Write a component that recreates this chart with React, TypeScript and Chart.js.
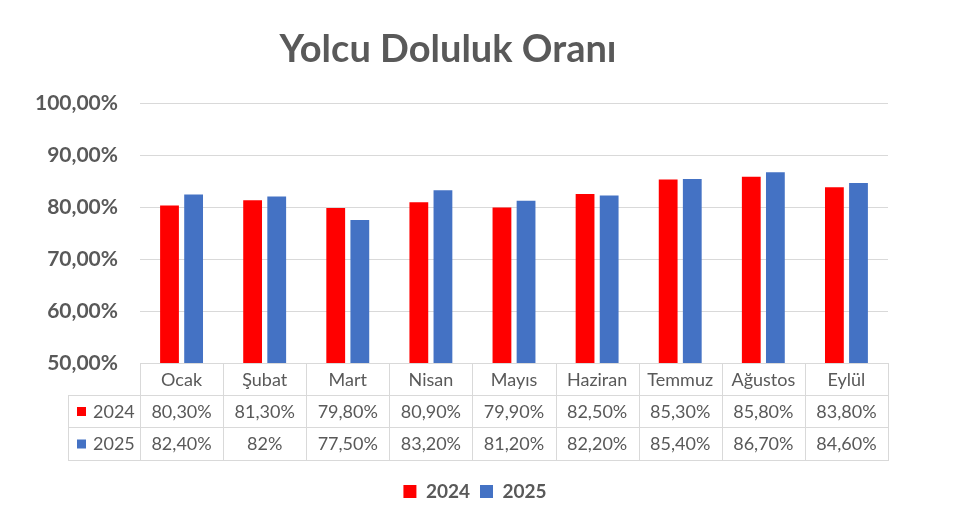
import React, { useEffect, useRef } from "react";
import { Chart, registerables } from "chart.js";

Chart.register(...registerables);

const months = ["Ocak", "Şubat", "Mart", "Nisan", "Mayıs", "Haziran", "Temmuz", "Ağustos", "Eylül"];
const seriesNames = ["2024", "2025"];
const values2024 = [80.3, 81.3, 79.8, 80.9, 79.9, 82.5, 85.3, 85.8, 83.8];
const values2025 = [82.4, 82.0, 77.5, 83.2, 81.2, 82.2, 85.4, 86.7, 84.6];
const table2024 = ["80,30%", "81,30%", "79,80%", "80,90%", "79,90%", "82,50%", "85,30%", "85,80%", "83,80%"];
const table2025 = ["82,40%", "82%", "77,50%", "83,20%", "81,20%", "82,20%", "85,40%", "86,70%", "84,60%"];
const colors = ["#ff0000", "#4472c4"];
const titleText = "Yolcu Doluluk Oranı";

const FONT = "Lato, 'Open Sans', sans-serif";
const GRAY = "#595959";
const LINE = "#d9d9d9";

const tablePlugin = {
  id: "dataTable",
  afterLayout(chart: any) {
    // shift the legend so that it is centred like in the reference
    if (chart.legend) {
      chart.legend.left += 54;
    }
  },
  afterDraw(chart: any) {
    const ctx = chart.ctx as CanvasRenderingContext2D;
    const area = chart.chartArea;
    const xs = chart.scales.x;
    ctx.save();
    // title
    ctx.fillStyle = GRAY;
    ctx.font = `bold 38px ${FONT}`;
    ctx.textAlign = "center";
    ctx.textBaseline = "alphabetic";
    ctx.fillText(titleText, 448, 62);

    const half = (xs.getPixelForValue(1) - xs.getPixelForValue(0)) / 2;
    const left = xs.getPixelForValue(0) - half;
    const right = xs.getPixelForValue(months.length - 1) + half;
    const keyLeft = 68;
    const r0 = Math.round(area.bottom);
    const rows = [r0, r0 + 32, r0 + 64, r0 + 97];

    ctx.strokeStyle = LINE;
    ctx.lineWidth = 1;
    ctx.beginPath();
    ctx.moveTo(left, rows[0] + 0.5);
    ctx.lineTo(right, rows[0] + 0.5);
    for (let r = 1; r < rows.length; r++) {
      ctx.moveTo(keyLeft, rows[r] + 0.5);
      ctx.lineTo(right, rows[r] + 0.5);
    }
    for (let i = 0; i <= months.length; i++) {
      const x = Math.round(left + i * 2 * half) + 0.5;
      ctx.moveTo(x, rows[0]);
      ctx.lineTo(x, rows[3] + 1);
    }
    ctx.moveTo(keyLeft + 0.5, rows[1]);
    ctx.lineTo(keyLeft + 0.5, rows[3] + 1);
    ctx.stroke();

    ctx.fillStyle = GRAY;
    ctx.font = `18px ${FONT}`;
    ctx.textAlign = "center";
    ctx.textBaseline = "middle";
    const mid = (a: number, b: number) => (a + b) / 2 + 1;
    months.forEach((m, i) => {
      const cx = xs.getPixelForValue(i);
      ctx.fillText(m, cx, mid(rows[0], rows[1]));
      ctx.fillText(table2024[i], cx, mid(rows[1], rows[2]));
      ctx.fillText(table2025[i], cx, mid(rows[2], rows[3]));
    });
    // series keys
    [0, 1].forEach((s) => {
      const cy = mid(rows[s + 1], rows[s + 2]);
      ctx.fillStyle = colors[s];
      ctx.fillRect(77, cy - 5, 9, 9);
      ctx.fillStyle = GRAY;
      ctx.textAlign = "left";
      ctx.fillText(seriesNames[s], 93, cy);
    });
    ctx.restore();
  },
};

export default function App() {
  const ref = useRef<HTMLCanvasElement>(null);
  useEffect(() => {
    if (!ref.current) return;
    const chart = new Chart(ref.current, {
      type: "bar",
      data: {
        labels: months,
        datasets: [
          { label: seriesNames[0], data: values2024, backgroundColor: colors[0] },
          { label: seriesNames[1], data: values2025, backgroundColor: colors[1] },
        ],
      },
      options: {
        responsive: false,
        animation: false,
        layout: { padding: { left: 8, right: 72, top: 103, bottom: 8 } },
        datasets: { bar: { categoryPercentage: 0.58, barPercentage: 0.78 } },
        scales: {
          x: {
            grid: { display: false },
            border: { display: false },
            ticks: { display: false },
            afterFit: (s: any) => {
              s.height = 109;
            },
          },
          y: {
            min: 50,
            max: 100,
            ticks: {
              stepSize: 10,
              padding: 22,
              color: GRAY,
              font: { family: FONT, size: 21, weight: "bold" },
              callback: (v: any) => `${Number(v).toFixed(2).replace(".", ",")}%`,
            },
            grid: { color: LINE, drawTicks: false },
            border: { display: false },
            afterFit: (s: any) => {
              s.width = 132;
            },
          },
        },
        plugins: {
          title: { display: false },
          tooltip: { enabled: false },
          legend: {
            position: "bottom",
            labels: {
              boxWidth: 13,
              boxHeight: 13,
              padding: 10,
              color: GRAY,
              font: { family: FONT, size: 19, weight: "bold" },
            },
          },
        },
      },
      plugins: [tablePlugin],
    });
    return () => chart.destroy();
  }, []);
  return (
    <div style={{ position: "fixed", left: 0, top: 0, width: 960, height: 519, background: "#fff" }}>
      <canvas ref={ref} width={960} height={519} style={{ display: "block" }} />
    </div>
  );
}
